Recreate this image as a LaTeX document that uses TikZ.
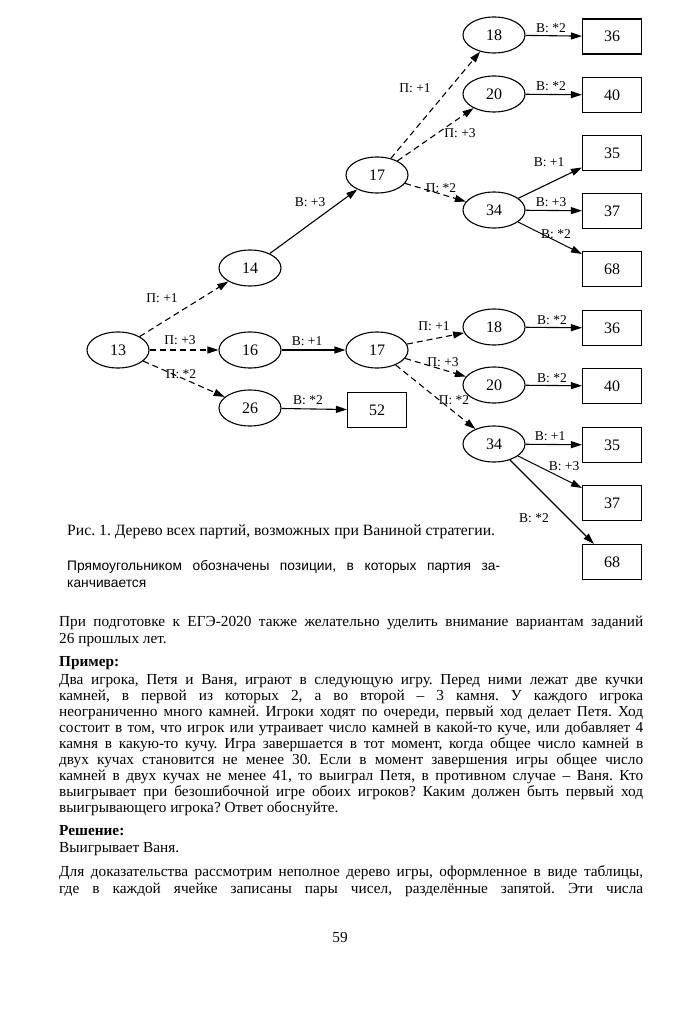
\documentclass[tikz,border=0pt]{standalone}
\usepackage{fontspec}
\usepackage{graphicx}
\setmainfont{Liberation Serif}
\newfontfamily\capsans{Liberation Sans}
\usetikzlibrary{shapes.geometric,arrows.meta}
\newsavebox\jlinebox
\newcommand\jline[2][584pt]{\sbox\jlinebox{#2}\ifdim\wd\jlinebox>#1\resizebox{#1}{\height}{#2}\else\makebox[#1][s]{#2}\fi}
\begin{document}
\frenchspacing
\begin{tikzpicture}[x=1pt,y=-1pt,
 posn/.style={draw,ellipse,line width=1.1pt,minimum width=62pt,minimum height=36pt,inner sep=0pt,font=\fontsize{16}{16}\selectfont},
 fin/.style={draw,rectangle,line width=1.1pt,minimum width=59pt,minimum height=35pt,inner sep=0pt,font=\fontsize{16}{16}\selectfont},
 mv/.style={line width=1.1pt,-{Triangle[length=11pt,width=7pt]}},
 pmv/.style={mv,dash pattern=on 6pt off 4pt},
 lab/.style={font=\fontsize{13.5}{13.5}\selectfont,inner sep=0pt},
 txt/.style={anchor=base west,inner sep=0pt,font=\fontsize{15.3}{16}\selectfont},
 capt/.style={anchor=base west,inner sep=0pt,font=\capsans\fontsize{13.8}{16}\selectfont}
]
\useasboundingbox (0,0) rectangle (698,1024);
\fill[white] (0,0) rectangle (698,1024);

% ---------- nodes ----------
\node[posn] (n13) at (118,350) {13};
\node[posn] (n14) at (250,268) {14};
\node[posn] (a17) at (377,175) {17};
\node[posn] (a18) at (494,35) {18};
\node[posn] (a20) at (494,94) {20};
\node[posn] (a34) at (494,210) {34};
\node[fin] (a36) at (612,36.5) {36};
\node[fin] (a40) at (612,95) {40};
\node[fin] (a35) at (612,153) {35};
\node[fin] (a37) at (612,211) {37};
\node[fin] (a68) at (612,269) {68};

\node[posn] (n16) at (250,350) {16};
\node[posn] (b17) at (377,350) {17};
\node[posn] (n26) at (250,408) {26};
\node[fin] (n52) at (377,410) {52};
\node[posn] (b18) at (494,327) {18};
\node[posn] (b20) at (494,385) {20};
\node[posn] (b34) at (494,444) {34};
\node[fin] (b36) at (612,328) {36};
\node[fin] (b40) at (612,386) {40};
\node[fin] (b35) at (612,445) {35};
\node[fin] (b37) at (612,503) {37};
\node[fin] (b68) at (612,562) {68};

% ---------- edges ----------
\draw[pmv] (n13) -- (n14);
\draw[mv] (n14) -- (a17);
\draw[pmv] (a17) -- (a18);
\draw[pmv] (a17) -- (a20);
\draw[pmv] (a17) -- (a34);
\draw[mv] (a18) -- (a36);
\draw[mv] (a20) -- (a40);
\draw[mv] (a34) -- (a35);
\draw[mv] (a34) -- (a37);
\draw[mv] (a34) -- (a68);

\draw[pmv] (n13) -- (n16);
\draw[pmv] (n13) -- (n26);
\draw[mv] (n16) -- (b17);
\draw[mv] (n26) -- (n52);
\draw[pmv] (b17) -- (b18);
\draw[pmv] (b17) -- (b20);
\draw[pmv] (b17) -- (b34);
\draw[mv] (b18) -- (b36);
\draw[mv] (b20) -- (b40);
\draw[mv] (b34) -- (b35);
\draw[mv] (b34) -- (b37);
\draw[mv] (b34) -- (b68);

% ---------- edge labels ----------
\node[lab] (l1) at (162,298) {П: +1};
\node[lab] (l2) at (310,202) {В: +3};
\node[lab] (l3) at (415,88) {П: +1};
\node[lab] (l4) at (460,133) {П: +3};
\node[lab] (l5) at (441,188) {П: *2};
\node[lab] (l6) at (551,28) {В: *2};
\node[lab] (l7) at (551,86) {В: *2};
\node[lab] (l8) at (549,162) {В: +1};
\node[lab] (l9) at (551,202) {В: +3};
\node[lab] (l10) at (556,234) {В: *2};

\node[lab] (l11) at (180,340) {П: +3};
\node[lab] (l12) at (181,374) {П: *2};
\node[lab] (l13) at (307,341) {В: +1};
\node[lab] (l14) at (308,400) {В: *2};
\node[lab] (l15) at (434,326) {П: +1};
\node[lab] (l16) at (443,362) {П: +3};
\node[lab] (l17) at (454,400) {П: *2};
\node[lab] (l18) at (552,320) {В: *2};
\node[lab] (l19) at (552,378) {В: *2};
\node[lab] (l20) at (550,436) {В: +1};
\node[lab] (l21) at (564,466) {В: +3};
\node[lab] (l22) at (534,518) {В: *2};

% ---------- caption ----------
\node[txt,font=\fontsize{15.7}{16}\selectfont] (c1) at (67,535) {Рис. 1. Дерево всех партий, возможных при Ваниной стратегии.};
\node[capt] (c2) at (67,570) {\jline[433pt]{Прямоугольником обозначены позиции, в которых партия за-}};
\node[capt] (c3) at (67,587) {канчивается};

% ---------- body text ----------
\node[txt] (t1) at (59,626) {\jline{При подготовке к ЕГЭ-2020 также желательно уделить внимание вариантам заданий}};
\node[txt] (t2) at (59,643) {26 прошлых лет.};
\node[txt] (t3) at (59,666) {\textbf{Пример:}};
\node[txt] (t4) at (59,684) {\jline{Два игрока, Петя и Ваня, играют в следующую игру. Перед ними лежат две кучки}};
\node[txt] (t5) at (59,700) {\jline{камней, в первой из которых 2, а во второй – 3 камня. У каждого игрока}};
\node[txt] (t6) at (59,716) {\jline{неограниченно много камней. Игроки ходят по очереди, первый ход делает Петя. Ход}};
\node[txt] (t7) at (59,732) {\jline{состоит в том, что игрок или утраивает число камней в какой-то куче, или добавляет 4}};
\node[txt] (t8) at (59,748) {\jline{камня в какую-то кучу. Игра завершается в тот момент, когда общее число камней в}};
\node[txt] (t9) at (59,764) {\jline{двух кучах становится не менее 30. Если в момент завершения игры общее число}};
\node[txt] (t10) at (59,780) {\jline{камней в двух кучах не менее 41, то выиграл Петя, в противном случае – Ваня. Кто}};
\node[txt] (t11) at (59,796) {\jline{выигрывает при безошибочной игре обоих игроков? Каким должен быть первый ход}};
\node[txt] (t12) at (59,812) {выигрывающего игрока? Ответ обоснуйте.};
\node[txt] (t13) at (59,835) {\textbf{Решение:}};
\node[txt] (t14) at (59,852) {Выигрывает Ваня.};
\node[txt] (t15) at (59,876) {\jline{Для доказательства рассмотрим неполное дерево игры, оформленное в виде таблицы,}};
\node[txt] (t16) at (59,893) {\jline{где в каждой ячейке записаны пары чисел, разделённые запятой. Эти числа}};
\node[txt,anchor=base] (pg) at (340,942) {59};
\end{tikzpicture}
\end{document}
